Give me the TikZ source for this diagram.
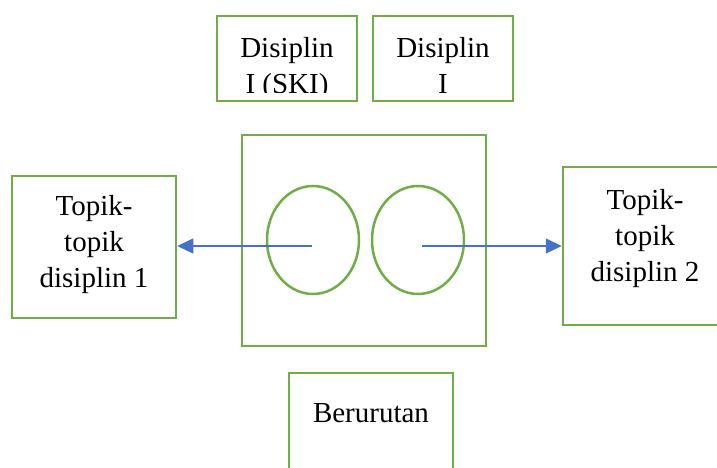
\documentclass[tikz,border=0pt]{standalone}
\usepackage{fontspec}
\setmainfont{Liberation Serif}
\usetikzlibrary{
  shapes.geometric,
  arrows.meta
}
\definecolor{boxgreen}{HTML}{70AD47}
\definecolor{arrowblue}{HTML}{4472C4}
\tikzset{
  box/.style={draw=boxgreen, line width=2.5pt, inner sep=0pt},
  oval/.style={draw=boxgreen, line width=2.5pt, ellipse, inner sep=0pt,
    minimum width=92pt, minimum height=108pt},
  words/.style={align=center, inner sep=0pt,
    font=\fontsize{29pt}{36pt}\selectfont},
  arrowline/.style={draw=arrowblue, line width=1.2pt,
    -{Triangle[length=16pt,width=15pt]}}
}

\begin{document}
\begin{tikzpicture}[x=1pt,y=-1pt]
\useasboundingbox (0,0) rectangle (717,468);
\clip (0,0) rectangle (717,468);
% top boxes
\node[box, minimum width=140pt, minimum height=85pt] (ski) at (287,58.5) {};
\node[box, minimum width=140pt, minimum height=85pt] (disI) at (443,58.5) {};
\begin{scope}
  \clip (219,18) rectangle (355,93);
  \node[words] (skitext) at (287,69) {Disiplin\\I (SKI)};
\end{scope}
\node[words] (disItext) at (443,65) {Disiplin\\I};
% middle
\node[box, minimum width=244pt, minimum height=211pt] (frame) at (364,240.5) {};
\node[oval] (left oval) at (313,240) {};
\node[oval] (right oval) at (418,240) {};
\node[box, minimum width=164pt, minimum height=142pt] (topik1) at (94,247) {};
\node[words] (topik1text) at (94,245) {Topik-\\topik\\disiplin 1};
\node[box, minimum width=164pt, minimum height=158pt] (topik2) at (645,246) {};
\node[words] (topik2text) at (645,239) {Topik-\\topik\\disiplin 2};
% bottom
\node[box, minimum width=164pt, minimum height=130pt] (urut) at (371,438) {};
\node[words] (uruttext) at (371,413) {Berurutan};
% arrows
\coordinate (c1) at (312,246);
\coordinate (c2) at (422,246);
\draw[arrowline] (c1) -- (c1 -| topik1.east);
\draw[arrowline] (c2) -- (c2 -| topik2.west);
\end{tikzpicture}
\end{document}
